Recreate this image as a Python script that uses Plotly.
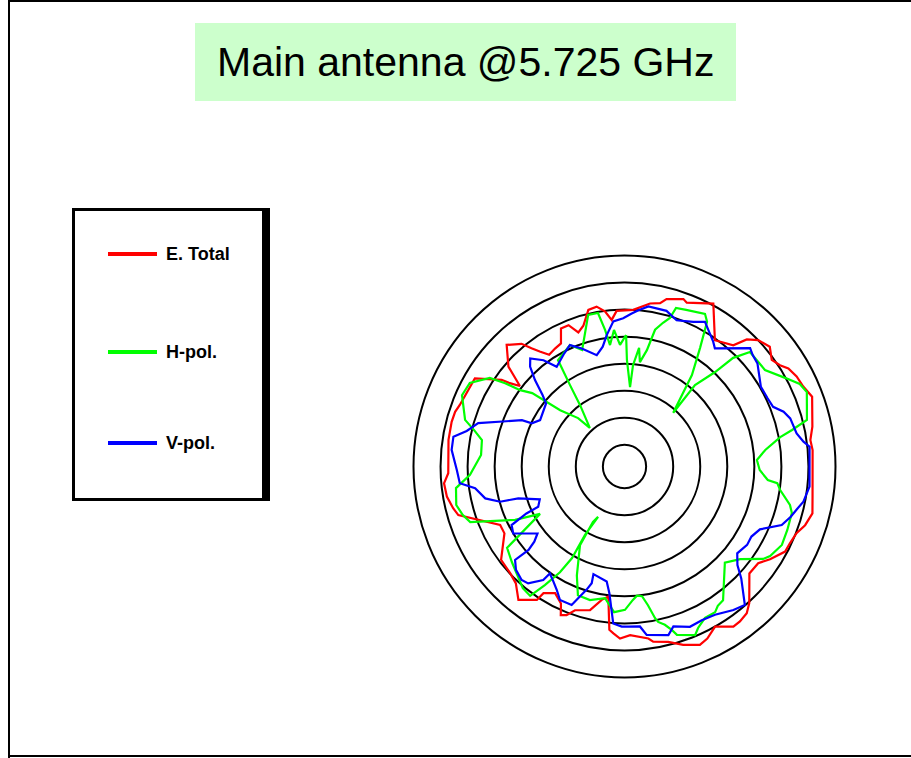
import plotly.graph_objects as go

W, H = 911, 758

# ---------------- data (angle in degrees, clockwise from top; level in dB) -------------
rings_db = [-35, -30, -25, -20, -15, -10, -5]
r_min, r_max = -39, 0

red_theta = [3.2, 8.9, 12.3, 14.1, 19.4, 20.8, 28.6, 35.6, 41.9, 43.9, 46.6, 50.5, 54.1, 56.9,
             59.1, 62.4, 65.9, 69.6, 78, 81.9, 85, 99.1, 104, 108, 111.2, 114.9, 117.9, 122.5,
             125.9, 130.6, 137.6, 140.2, 143.3, 145.8, 150.5, 154.3, 157.1, 161.8, 166, 170.7,
             172.1, 178.1, 181.5, 183.8, 185.3, 187.1, 189.7, 193.5, 199, 201.3, 203.2, 204.9,
             208.7, 212.6, 213.3, 218.5, 222.9, 227, 232.9, 240.9, 244.8, 253.7, 256.3, 260.4,
             264.7, 267.8, 278.6, 284.5, 287.9, 290.5, 300.5, 305.2, 306, 307.6, 310.7, 315.9,
             320, 321.8, 323.6, 326, 329.5, 332.7, 335.3, 338.4, 341, 343.7, 347, 350.1, 352.8,
             355, 357.1, 363.2]
red_db = [-10.0, -8.5, -8.1, -7.1, -6.2, -6.6, -4.7, -10.3, -8.9, -6.4, -5.0, -4.2, -5.4, -4.7,
          -3.7, -3.1, -2.8, -2.0, -3.5, -4.3, -4.1, -3.8, -3.2, -3.9, -4.9, -5.3, -5.4, -7.1,
          -8.5, -8.6, -4.8, -3.7, -3.3, -3.2, -5.0, -3.7, -3.2, -4.3, -5.6, -6.2,
          -6.9, -7.8, -7.2, -8.1, -8.7, -14.8, -14.0, -11.7, -10.9, -9.5, -9.1, -11.1,
          -12.3, -11.2, -9.5, -7.5, -9.5, -10.1, -10.4, -13.6, -13.6, -7.0, -6.4, -5.7,
          -5.5, -6.4, -6.1, -6.0, -6.1, -6.5, -6.9, -11.2, -12.8, -14.6, -10.7, -7.7,
          -9.4, -11.2, -12.6, -14.1, -13.7, -13.4, -10.9, -10.9, -12.8, -11.9, -9.3, -9.0, -10.1,
          -11.8, -10.2, -10.0]

green_theta = [0.7, 1.3, 4.0, 4.8, 7.0, 8.4, 10.9, 12.6, 15.0, 17.0, 18.0, 21.5, 27.8, 29.7,
               32.5, 36.4, 42.2, 40.9, 43.8, 45.0, 47.6, 55.5, 61.1, 64.8, 67.8, 75.7, 77.7,
               79.3, 83.3, 87.2, 91.5, 95.4, 96.2, 98.6, 103.1, 105.5, 111.3, 116.5, 121.6,
               123.7, 128.7, 133.8, 143.6, 146.2, 148.1, 152.0, 155.5, 157.3, 162.7, 163.8,
               165.7, 167.8, 168.6, 170.4, 172.3, 174.5, 176.4, 179.8, 184.1, 188.4, 194.5,
               199.9, 203.6, 209.5, 209.6, 207.7, 210.0, 209.8, 211.4, 213.9, 216.1, 219.9,
               229.7, 235.3, 240.7, 244.0, 250.2, 253.3, 257.1, 262.7, 266.9, 274.6, 280.5,
               283.6, 286.3, 293.7, 298.4, 303.3, 304.9, 306.2, 308.5, 311.2, 316.2, 318.1,
               324.1, 326.2, 328.0, 335.8, 340.0, 346.5, 350.2, 351.9, 353.2, 355.6, 357.9, 360.7]
green_db = [-14.7, -19.3, -24.3, -20.2, -16.9, -19.5, -17.1, -13.1, -11.5, -10.3, -8.2, -7.9,
            -7.1, -8.2, -13.0, -18.0, -25.6, -19.1, -14.8, -10.6, -7.6, -7.5, -5.1, -3.2, -2.6,
            -4.2, -7.3, -9.7, -12.8, -14.5, -14.0, -12.4, -10.6, -9.9, -7.6, -6.9, -6.7, -6.5,
            -7.4, -8.2, -11.6, -13.3, -8.3, -8.0, -7.3, -7.3, -6.2, -5.2, -6.4, -7.5,
            -8.8, -9.6, -10.4, -13.0, -14.8, -15.0, -14.3, -12.5, -12.0, -14.4, -13.5,
            -13.7, -17.0, -22.3, -27.2, -28.5, -24.4, -19.5, -16.1, -12.6, -9.4, -9.7,
            -11.7, -12.6, -21.1, -16.5, -8.7, -7.8, -7.1, -7.6, -10.4, -12.4, -12.2,
            -10.4, -8.3, -6.2, -6.5, -9.2, -12.1, -15.1, -17.2, -23.2, -26.6, -29.4,
            -25.0, -20.9, -15.8, -14.4, -16.1, -10.2, -10.2, -13.5, -16.4, -13.7, -16.5, -14.7]

blue_theta = [2.7, 5.1, 8.5, 15.1, 19.6, 25.4, 29.1, 31.6, 35.4, 37.4, 46.7, 49, 52.2, 59.7,
              64.5, 68.1, 71, 73.8, 79.1, 82.1, 83.9, 96.2, 101.1, 104, 106.8, 110.4, 114.9,
              118.9, 122.6, 127.6, 131.1, 133.8, 139, 142.8, 148.6, 153.3, 157.8, 163, 165.4,
              172.5, 174.5, 178.6, 181, 184.1, 186.8, 188.8, 196.1, 195.7, 197.1, 200.9, 205.8,
              208.8, 211.7, 214.9, 215.6, 219.5, 222.2, 226.4, 229.5, 229, 230.2, 232.4, 239,
              242.6, 244.4, 245, 248.8, 253.3, 254.2, 257.1, 261.7, 264.2, 268.8, 275.5, 279.9,
              282.7, 286.5, 294.3, 295, 298.8, 308.8, 311.1, 314, 316.6, 318.9, 322.7, 325.8,
              332, 335.8, 340.1, 346, 349.7, 352.3, 355.6, 359.5, 362.7]
blue_db = [-10.7, -10.0, -9.1, -9.2, -10.3, -9.4, -8.4, -9.4, -10.7, -11.5, -7.1, -7.6, -7.9,
           -9.8, -9.7, -9.4, -7.9, -7.1, -6.6, -5.6, -4.6, -4.6, -5.3, -6.2, -6.9, -8.0, -11.4,
           -12.2, -12.1, -12.7, -11.3, -9.1, -5.1, -5.7, -6.9, -7.2, -7.0, -8.1, -6.8,
           -7.6, -9.3, -9.4, -9.4, -9.9, -15.4, -17.5, -18.3, -16.6, -15.2, -11.6, -11.6,
           -13.0, -14.0, -14.9, -13.2, -11.0, -10.7, -11.3, -12.4, -15.5, -17.3, -18.7, -15.0,
           -15.5, -18.9, -21.4, -22.2, -18.5, -15.1, -12.6, -11.1, -8.4, -8.0, -6.9, -6.9,
           -9.1, -10.8, -18.2, -20.1, -21.2, -20.4, -18.9, -16.0, -13.6, -12.5, -14.3, -16.7,
           -15.3, -14.4, -15.8, -17.8, -16.5, -14.5, -12.1, -11.6, -10.7]

series_names = ["E. Total", "H-pol.", "V-pol."]
series_colors = ["#ff0000", "#00ff00", "#0000ff"]
title_text = "Main antenna @5.725 GHz"


def px(x):
    return x / W


def py(y):
    return 1 - y / H


fig = go.Figure()
for name, th, rr, col in [(series_names[0], red_theta, red_db, series_colors[0]),
                          (series_names[1], green_theta, green_db, series_colors[1]),
                          (series_names[2], blue_theta, blue_db, series_colors[2])]:
    fig.add_trace(go.Scatterpolar(theta=th, r=rr, mode="lines", name=name,
                                  line=dict(color=col, width=2.2), showlegend=False,
                                  hoverinfo="skip"))

cx, cy, R = 624.5, 466.5, 211
shapes = []
# page frame (left, top, bottom)
for (x0, y0, x1, y1) in [(8, 0, 10, 758), (8, 0, 911, 2), (8, 755, 911, 757)]:
    shapes.append(dict(type="rect", xref="paper", yref="paper", x0=px(x0), x1=px(x1),
                       y0=py(y1), y1=py(y0), fillcolor="black", line=dict(width=0), layer="below"))
# title box
shapes.append(dict(type="rect", xref="paper", yref="paper", x0=px(195), x1=px(736),
                   y0=py(101), y1=py(23), fillcolor="#ccffcc", line=dict(width=0), layer="below"))
# legend box with shadow
shapes.append(dict(type="rect", xref="paper", yref="paper", x0=px(72), x1=px(270),
                   y0=py(501), y1=py(208), fillcolor="black", line=dict(width=0), layer="below"))
shapes.append(dict(type="rect", xref="paper", yref="paper", x0=px(75), x1=px(262),
                   y0=py(498), y1=py(211), fillcolor="white", line=dict(width=0), layer="below"))

annotations = [dict(text=title_text, xref="paper", yref="paper", x=px(465), y=py(62),
                    xanchor="center", yanchor="middle", showarrow=False,
                    font=dict(family="Liberation Sans, Arial", size=41, color="black"))]
legend_y = [254, 352, 443]
for name, col, ly in zip(series_names, series_colors, legend_y):
    shapes.append(dict(type="line", xref="paper", yref="paper", x0=px(108), x1=px(157),
                       y0=py(ly), y1=py(ly), line=dict(color=col, width=4)))
    annotations.append(dict(text="<b>" + name + "</b>", xref="paper", yref="paper", x=px(164),
                            y=py(ly), xanchor="left", yanchor="middle", showarrow=False,
                            font=dict(family="Liberation Sans, Arial", size=18, color="black")))

fig.update_layout(
    width=W, height=H,
    margin=dict(l=0, r=0, t=0, b=0),
    paper_bgcolor="white",
    showlegend=False,
    shapes=shapes,
    annotations=annotations,
    polar=dict(
        domain=dict(x=[px(cx - R), px(cx + R)], y=[py(cy + R), py(cy - R)]),
        bgcolor="white",
        radialaxis=dict(range=[r_min, r_max], tickvals=rings_db, showticklabels=False,
                        ticks="", showline=False, gridcolor="black", gridwidth=2.2),
        angularaxis=dict(rotation=90, direction="clockwise", showgrid=False,
                         showticklabels=False, ticks="", showline=True,
                         linecolor="black", linewidth=2),
    ),
)

fig.write_html("out.html", config={"displayModeBar": False},
               post_script="document.body.style.margin='0';document.body.style.overflow='hidden';")
